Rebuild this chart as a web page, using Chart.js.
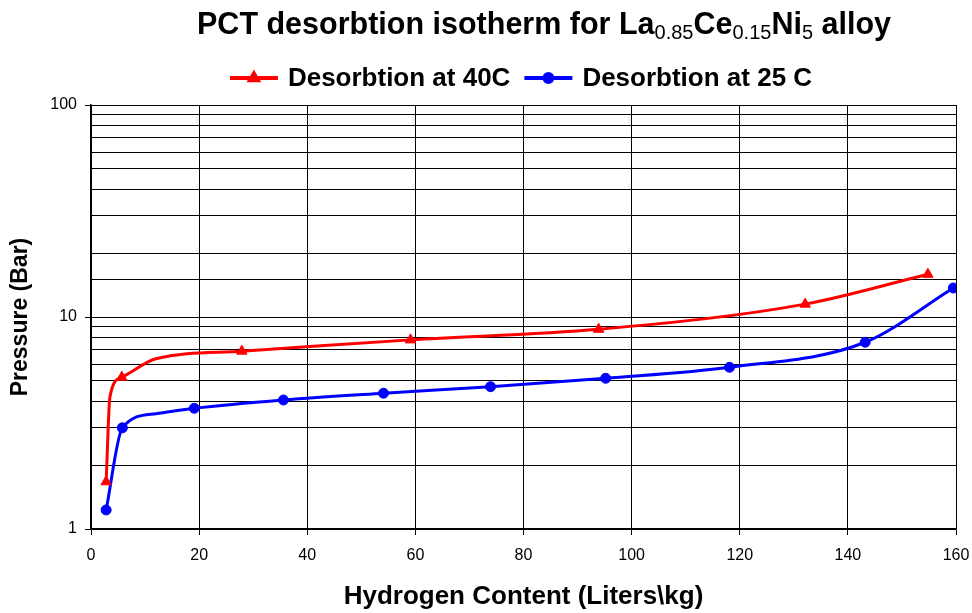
<!DOCTYPE html>
<html>
<head>
<meta charset="utf-8">
<script src="https://cdn.jsdelivr.net/npm/chart.js@4.4.1/dist/chart.umd.min.js"></script>
<style>
  html, body { margin: 0; padding: 0; background: #fff; }
  #wrap { width: 972px; height: 613px; position: relative; }
</style>
</head>
<body>
<div id="wrap"><canvas id="chart" width="972" height="613"></canvas></div>
<script>
// === Data ===
const titleParts = [
  ["PCT desorbtion isotherm for La", false],
  ["0.85", true],
  ["Ce", false],
  ["0.15", true],
  ["Ni", false],
  ["5", true],
  [" alloy", false]
];
const xTitle = "Hydrogen Content (Liters\\kg)";
const yTitle = "Pressure (Bar)";
const xTicks = [0, 20, 40, 60, 80, 100, 120, 140, 160];
const yTickLabels = [1, 10, 100];

const name40 = "Desorbtion at 40C";
const x40 = [2.8, 3.5, 5.7, 12, 27.9, 59.1, 93.9, 132.1, 154.8];
const y40 = [1.67, 4.2, 5.2, 6.35, 6.9, 7.8, 8.75, 11.5, 15.9];
const marked40 = [true, false, true, false, true, true, true, true, true];

const name25 = "Desorbtion at 25 C";
const x25 = [2.8, 5.8, 12, 19.1, 35.6, 54.1, 73.9, 95.2, 118.1, 143.2, 159.5];
const y25 = [1.23, 3.0, 3.5, 3.71, 4.06, 4.37, 4.69, 5.14, 5.79, 7.6, 13.7];
const marked25 = [true, true, false, true, true, true, true, true, true, true, true];

const FONT = "'Liberation Sans', Arial, sans-serif";

function toPoints(xs, ys) {
  return xs.map((x, i) => ({ x: x, y: ys[i] }));
}

// === Title + legend drawn on canvas (subscripts, line+marker keys) ===
const headerPlugin = {
  id: "header",
  afterDraw(chart) {
    const ctx = chart.ctx;
    ctx.save();
    ctx.fillStyle = "#000";
    ctx.textBaseline = "alphabetic";

    // title
    const mainFont = "bold 30.5px " + FONT;
    const subFont = "20px " + FONT;
    let total = 0;
    titleParts.forEach(([t, sub]) => {
      ctx.font = sub ? subFont : mainFont;
      total += ctx.measureText(t).width;
    });
    let x = 544 - total / 2;
    const base = 34;
    titleParts.forEach(([t, sub]) => {
      ctx.font = sub ? subFont : mainFont;
      ctx.fillText(t, x, sub ? base + 5 : base);
      x += ctx.measureText(t).width;
    });

    // legend
    ctx.font = "bold 26px " + FONT;
    ctx.textBaseline = "middle";
    const ly = 78;
    const items = chart.data.datasets.map(ds => ({
      text: ds.label, color: ds.borderColor, style: ds.pointStyle, r: ds.legendRadius
    }));
    const lineLen = 48, gap = 10, itemGap = 14;
    let width = 0;
    items.forEach(it => { width += lineLen + gap + ctx.measureText(it.text).width; });
    width += itemGap * (items.length - 1);
    let lx = 521 - width / 2;
    items.forEach(it => {
      ctx.strokeStyle = it.color;
      ctx.lineWidth = 4;
      ctx.beginPath();
      ctx.moveTo(lx, ly);
      ctx.lineTo(lx + lineLen, ly);
      ctx.stroke();
      ctx.fillStyle = it.color;
      Chart.helpers.drawPoint(ctx, { pointStyle: it.style, radius: it.r, borderWidth: 1 }, lx + lineLen / 2, ly);
      ctx.fillStyle = "#000";
      ctx.fillText(it.text, lx + lineLen + gap, ly + 1);
      lx += lineLen + gap + ctx.measureText(it.text).width + itemGap;
    });
    ctx.restore();
  }
};

const chart = new Chart(document.getElementById("chart"), {
  type: "line",
  data: {
    datasets: [
      {
        label: name40,
        data: toPoints(x40, y40),
        borderColor: "#ff0000",
        backgroundColor: "#ff0000",
        borderWidth: 3,
        pointStyle: "triangle",
        legendRadius: 4.5,
        pointRadius: ctx => marked40[ctx.dataIndex] ? 6 : 0,
        pointBorderWidth: 1,
        cubicInterpolationMode: "monotone"
      },
      {
        label: name25,
        data: toPoints(x25, y25),
        borderColor: "#0000ff",
        backgroundColor: "#0000ff",
        borderWidth: 3,
        pointStyle: "circle",
        legendRadius: 4,
        pointRadius: ctx => marked25[ctx.dataIndex] ? 5 : 0,
        pointBorderWidth: 1,
        cubicInterpolationMode: "monotone"
      }
    ]
  },
  options: {
    responsive: false,
    animation: false,
    devicePixelRatio: 1,
    layout: { padding: { top: 105, right: 16, left: 0, bottom: 0 } },
    plugins: {
      legend: { display: false },
      title: { display: false },
      tooltip: { enabled: false }
    },
    scales: {
      x: {
        type: "linear",
        min: xTicks[0],
        max: xTicks[xTicks.length - 1],
        afterBuildTicks: axis => { axis.ticks = xTicks.map(v => ({ value: v })); },
        afterFit: axis => { axis.height = 84; axis.paddingLeft = 0; axis.paddingRight = 0; },
        grid: { color: "#000", lineWidth: 1, tickLength: 6, tickColor: "#000" },
        border: { color: "#000", width: 1.5 },
        ticks: { color: "#000", autoSkip: false, font: { family: FONT, size: 16 }, padding: 11, maxRotation: 0 },
        title: {
          display: true, text: xTitle, color: "#000",
          font: { family: FONT, size: 26, weight: "bold" },
          padding: { top: 0, bottom: 1 }
        }
      },
      y: {
        type: "logarithmic",
        min: 1,
        max: 100,
        afterFit: axis => { axis.width = 91; axis.paddingTop = 0; axis.paddingBottom = 0; },
        grid: {
          color: "#000", lineWidth: 1, tickLength: 6,
          tickColor: ctx => yTickLabels.includes(ctx.tick && ctx.tick.value) ? "#000" : "rgba(0,0,0,0)"
        },
        border: { color: "#000", width: 1.5 },
        ticks: {
          color: "#000",
          autoSkip: false,
          font: { family: FONT, size: 16 },
          padding: 8,
          callback: v => yTickLabels.includes(v) ? String(v) : ""
        },
        title: {
          display: true, text: yTitle, color: "#000",
          font: { family: FONT, size: 23, weight: "bold" },
          padding: { top: 7, bottom: 0 }
        }
      }
    }
  },
  plugins: [headerPlugin]
});
</script>
</body>
</html>
